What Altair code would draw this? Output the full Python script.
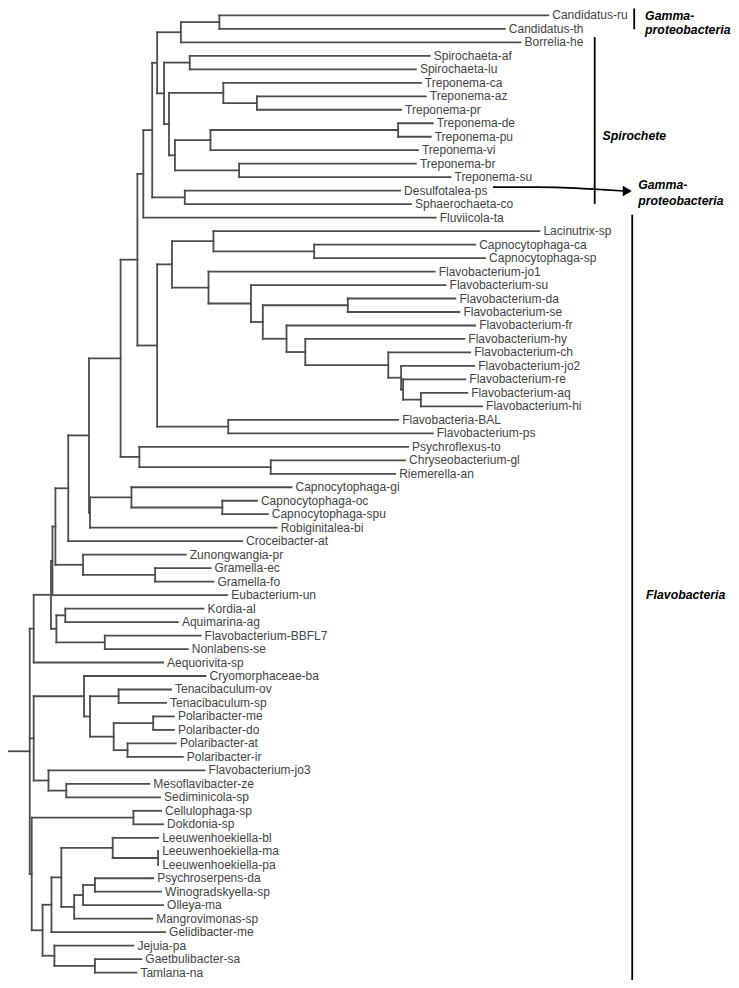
import altair as alt
import pandas as pd

# ---------------- data ----------------
leaf_names = [
    "Candidatus-ru", "Candidatus-th", "Borrelia-he", "Spirochaeta-af", "Spirochaeta-lu",
    "Treponema-ca", "Treponema-az", "Treponema-pr", "Treponema-de", "Treponema-pu",
    "Treponema-vi", "Treponema-br", "Treponema-su", "Desulfotalea-ps", "Sphaerochaeta-co",
    "Fluviicola-ta", "Lacinutrix-sp", "Capnocytophaga-ca", "Capnocytophaga-sp",
    "Flavobacterium-jo1", "Flavobacterium-su", "Flavobacterium-da", "Flavobacterium-se",
    "Flavobacterium-fr", "Flavobacterium-hy", "Flavobacterium-ch", "Flavobacterium-jo2",
    "Flavobacterium-re", "Flavobacterium-aq", "Flavobacterium-hi", "Flavobacteria-BAL",
    "Flavobacterium-ps", "Psychroflexus-to", "Chryseobacterium-gl", "Riemerella-an",
    "Capnocytophaga-gi", "Capnocytophaga-oc", "Capnocytophaga-spu", "Robiginitalea-bi",
    "Croceibacter-at", "Zunongwangia-pr", "Gramella-ec", "Gramella-fo", "Eubacterium-un",
    "Kordia-al", "Aquimarina-ag", "Flavobacterium-BBFL7", "Nonlabens-se", "Aequorivita-sp",
    "Cryomorphaceae-ba", "Tenacibaculum-ov", "Tenacibaculum-sp", "Polaribacter-me",
    "Polaribacter-do", "Polaribacter-at", "Polaribacter-ir", "Flavobacterium-jo3",
    "Mesoflavibacter-ze", "Sediminicola-sp", "Cellulophaga-sp", "Dokdonia-sp",
    "Leeuwenhoekiella-bl", "Leeuwenhoekiella-ma", "Leeuwenhoekiella-pa", "Psychroserpens-da",
    "Winogradskyella-sp", "Olleya-ma", "Mangrovimonas-sp", "Gelidibacter-me", "Jejuia-pa",
    "Gaetbulibacter-sa", "Tamlana-na",
]
leaf_depth = [
    552, 508, 524, 432, 418,
    423, 428, 403, 435, 433,
    420, 418, 453, 402, 413,
    438, 543, 478, 488,
    437, 448, 458, 462,
    478, 467, 473, 477,
    468, 470, 485, 400,
    435, 410, 407, 397,
    292, 257, 268, 277,
    242, 185, 210, 213, 227,
    203, 177, 200, 187, 162,
    205, 170, 165, 173,
    173, 175, 182, 204,
    148, 159, 160, 162,
    157, 157, 157, 152,
    160, 162, 151, 164, 132,
    140, 135,
]
leaf_parent = [
    "N219", "N219", "N180", "N189", "N189",
    "N223", "N257", "N257", "N400", "N400",
    "N210", "N239", "N239", "N184", "N184",
    "N142", "N213", "N315", "N315",
    "N208", "N251", "N349", "N349",
    "N287", "N307", "N390", "N403",
    "N405", "N423", "N423", "N228",
    "N228", "N138", "N271", "N271",
    "N130", "N222", "N222", "NX",
    "N66", "N81", "N154", "N154", "NB",
    "N63", "N63", "N103", "N103", "N31a",
    "N82", "N117", "N117", "N152",
    "N152", "N126", "N126", "N46",
    "N64", "N64", "N132", "N132",
    "N111", "N157", "N157", "N93",
    "N93", "N81b", "N72", "N49b", "N52",
    "N93b", "N93b",
]

node_names = [
    "root", "N31a", "NC", "NB", "NA", "N66", "N87", "N119", "N136", "N142", "N151",
    "N156s", "N180", "N219", "N163", "N189", "N168", "N223", "N257", "N174", "N210",
    "N400", "N239", "N184", "N156", "N171", "N213", "N315", "N208", "N251", "N263",
    "N349", "N287", "N307", "N390", "N403", "N405", "N423", "N228", "N138", "N271",
    "NX", "N130", "N222", "N81", "N154", "N54b", "N63", "N103", "N31b", "N82", "N88",
    "N117", "N112", "N152", "N126", "N46", "N64", "N29", "N132", "N40", "N49b", "N59",
    "N111", "N157", "N72", "N81b", "N93", "N52", "N93b",
]
node_depth = [
    27, 31, 48.5, 50, 53, 66, 87, 119, 136, 142, 151,
    156, 180, 219, 163, 189, 168, 223, 257, 174, 210,
    400, 239, 184, 156, 171, 213, 315, 208, 251, 263,
    349, 287, 306, 390, 403, 405, 423, 228, 138, 271,
    88, 130, 222, 81, 154, 54, 63, 103, 31, 82, 88,
    117, 112, 152, 126, 46, 64, 29, 132, 40, 49, 59,
    111, 157, 72, 81, 93, 52, 93,
]
node_parent = [
    "", "root", "N31a", "NC", "NB", "NA", "N66", "N87", "N119", "N136", "N142",
    "N151", "N156s", "N180", "N156s", "N163", "N163", "N168", "N223", "N168", "N174",
    "N210", "N174", "N151", "N136", "N156", "N171", "N213", "N171", "N208", "N251",
    "N263", "N263", "N287", "N307", "N390", "N403", "N405", "N156", "N119", "N138",
    "N87", "NX", "N130", "NA", "N81", "NC", "N54b", "N54b", "root", "N31b", "N82",
    "N88", "N88", "N112", "N112", "N31b", "N46", "root", "N29", "N29", "N40", "N49b",
    "N59", "N111", "N59", "N72", "N81b", "N40", "N52",
]

# clade annotations
clade_text = ["Gamma-", "proteobacteria", "Spirochete", "Gamma-", "proteobacteria", "Flavobacteria"]
clade_text_x = [650, 650, 607, 643, 643, 651]
clade_text_y = [11, 25, 132, 182, 198, 597]
bar_x = [639, 599, 637]
bar_y1 = [3, 32, 212]
bar_y2 = [24, 201, 988]
arrow_x = [496, 540, 580, 605, 629]
arrow_y = [184, 184, 185, 186.5, 188]

# ---------------- tree layout ----------------
LEAF_TOP, LEAF_STEP = 10.0, 13.662


def to_idx(y_ref):
    return (y_ref - LEAF_TOP) / LEAF_STEP


xpos = {}
ypos = {}
children = {n: [] for n in node_names}
for i, (n, d, p) in enumerate(zip(leaf_names, leaf_depth, leaf_parent)):
    xpos[n] = d
    ypos[n] = float(i)
    children[p].append(n)
for n, d, p in zip(node_names, node_depth, node_parent):
    xpos[n] = d
    if p:
        children[p].append(n)
parent_of = dict(zip(leaf_names, leaf_parent))
parent_of.update({n: p for n, p in zip(node_names, node_parent) if p})


def node_y(n):
    if n in ypos:
        return ypos[n]
    vals = [node_y(c) for c in children[n]]
    ypos[n] = (min(vals) + max(vals)) / 2
    return ypos[n]


node_y("root")

segs = []
for n, p in parent_of.items():
    segs.append({"x": xpos[p], "x2": xpos[n], "y": ypos[n], "y2": ypos[n]})
for n in node_names:
    vals = [ypos[c] for c in children[n]]
    segs.append({"x": xpos[n], "x2": xpos[n], "y": min(vals), "y2": max(vals)})
segs.append({"x": 0, "x2": xpos["root"], "y": ypos["root"], "y2": ypos["root"]})
seg_df = pd.DataFrame(segs)

label_df = pd.DataFrame({"name": leaf_names, "x": leaf_depth, "y": [ypos[n] for n in leaf_names]})

ann_df = pd.DataFrame({"t": clade_text, "x": clade_text_x, "y": [to_idx(v) for v in clade_text_y]})
bar_df = pd.DataFrame({"x": bar_x, "x2": bar_x, "y": [to_idx(v) for v in bar_y1],
                       "y2": [to_idx(v) for v in bar_y2]})
arrow_df = pd.DataFrame({"x": arrow_x, "y": [to_idx(v) for v in arrow_y], "o": list(range(len(arrow_x)))})
head_df = pd.DataFrame({"x": [632], "y": [to_idx(188)]})

# ---------------- chart ----------------
xs = alt.Scale(domain=[5, 737], nice=False, zero=False)
ys = alt.Scale(domain=[to_idx(2.5), to_idx(987.5)], reverse=True, nice=False, zero=False)
X = alt.X("x:Q", scale=xs, axis=None)
Y = alt.Y("y:Q", scale=ys, axis=None)

FONT = "Liberation Sans"

branches = alt.Chart(seg_df).mark_rule(color="#4d4d4d", strokeWidth=1.8, strokeCap="square").encode(
    x=X, x2="x2:Q", y=Y, y2="y2:Q")

labels = alt.Chart(label_df).mark_text(
    align="left", baseline="middle", dx=4, fontSize=12, font=FONT, color="#444444"
).encode(x=X, y=Y, text="name:N")

bars = alt.Chart(bar_df).mark_rule(color="black", strokeWidth=1.8).encode(x=X, x2="x2:Q", y=Y, y2="y2:Q")

ann = alt.Chart(ann_df).mark_text(
    align="left", baseline="middle", fontSize=12.3, font=FONT, fontWeight="bold",
    fontStyle="italic", color="black"
).encode(x=X, y=Y, text="t:N")

arrow = alt.Chart(arrow_df).mark_line(color="black", strokeWidth=1.6, interpolate="monotone").encode(
    x=X, y=Y, order="o:Q")

head = alt.Chart(head_df).mark_point(shape="triangle-right", size=110, filled=True, color="black",
                                     opacity=1).encode(x=X, y=Y)

chart = alt.layer(branches, labels, bars, arrow, head, ann).properties(
    width=723, height=972, padding=0, autosize=alt.AutoSizeParams(type="none")
).configure_view(stroke=None)

chart.save("out.html", embed_options={"renderer": "svg", "actions": False})
